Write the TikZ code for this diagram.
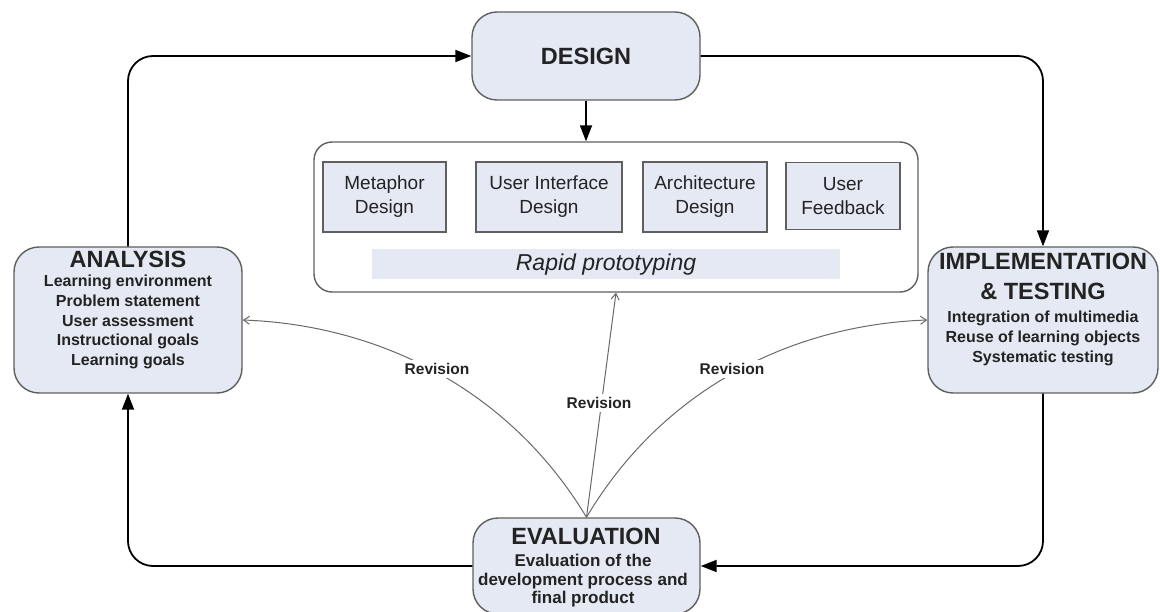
\documentclass[tikz,border=0pt]{standalone}
\usepackage{xcolor}
\usepackage{fontspec}
\setmainfont{Liberation Sans}
\usetikzlibrary{arrows.meta}
\definecolor{phasefill}{RGB}{228,233,244}
\definecolor{phaseline}{RGB}{95,95,95}
\definecolor{phasetext}{RGB}{35,35,35}
\definecolor{revline}{RGB}{105,105,105}

\begin{document}
\begin{tikzpicture}[x=1pt, y=-1pt,
  phase/.style={draw=phaseline, fill=phasefill, line width=1.4pt, rounded corners=25pt},
  subbox/.style={draw=phaseline, fill=phasefill, line width=1.1pt, align=center, text=phasetext,
    font=\fontsize{19}{24}\selectfont},
  title/.style={align=center, text=phasetext, font=\fontsize{23.5}{30}\selectfont\bfseries},
  items/.style={align=center, text=phasetext, font=\fontsize{16}{19.8}\selectfont\bfseries},
  flow/.style={line width=1.8pt, rounded corners=25pt, -{Triangle[length=16pt,width=12pt]}},
  revision/.style={draw=revline, line width=1pt, -{Straight Barb[length=6pt,width=8pt]}},
  revlabel/.style={fill=white, inner sep=3pt, text=phasetext, font=\fontsize{15.5}{18}\selectfont\bfseries}]
\useasboundingbox (0,0) rectangle (1160,612);

% phases
\node[phase, minimum width=228pt, minimum height=88pt] (design) at (586,56) {};
\node[title] (designtitle) at (586,56) {DESIGN};

\node[phase, minimum width=228pt, minimum height=146pt] (analysis) at (128,320) {};
\node[title] (analysistitle) at (128,259) {ANALYSIS};
\node[items] (analysisitems) at (128,322) {Learning environment\\Problem statement\\User assessment\\Instructional goals\\Learning goals};

\node[phase, minimum width=230pt, minimum height=146pt] (impl) at (1043,320) {};
\node[title] (impltitle) at (1043,276.5) {IMPLEMENTATION\\\& TESTING};
\node[items, font=\fontsize{16}{20}\selectfont\bfseries] (implitems) at (1043,338) {Integration of multimedia\\Reuse of learning objects\\Systematic testing};

\node[phase, minimum width=227pt, minimum height=96pt] (eval) at (586.5,566) {};
\node[title] (evaltitle) at (586,536) {EVALUATION};
\node[items, font=\fontsize{17}{18.5}\selectfont\bfseries] (evalitems) at (583,581) {Evaluation of the\\development process and\\final product};

% rapid prototyping
\node[draw=phaseline, fill=white, line width=1.4pt, rounded corners=18pt,
  minimum width=604pt, minimum height=150pt] (proto) at (616,217) {};
\node[subbox, minimum width=123pt, minimum height=70pt] (metaphor) at (384.5,197) {Metaphor\\Design};
\node[subbox, minimum width=146pt, minimum height=70pt] (ui) at (549,197) {User Interface\\Design};
\node[subbox, minimum width=124pt, minimum height=70pt] (arch) at (705,197) {Architecture\\Design};
\node[subbox, minimum width=114pt, minimum height=67pt] (feedback) at (843,196) {User\\Feedback};
\node[fill=phasefill, minimum width=468pt, minimum height=30pt, text=phasetext,
  font=\fontsize{23}{26}\selectfont\itshape] (rapid) at (606,264.5) {Rapid prototyping};

% main cycle
\draw[flow] (analysis.north) |- (design.west);
\draw[flow] (design.east) -| (impl.north);
\draw[flow, rounded corners=0pt] (design.south) -- (design.south |- proto.north);
\draw[flow] (impl.south) |- (eval.east);
\draw[flow] (eval.west) -| (analysis.south);

% revisions
\draw[revision] (eval.north) .. controls (510,390) and (380,325) .. (analysis.east);
\draw[revision] (eval.north) -- (proto.south);
\draw[revision] (eval.north) .. controls (662,390) and (790,325) .. (impl.west);
\node[revlabel] (rev1) at (437,369) {Revision};
\node[revlabel] (rev2) at (599,403) {Revision};
\node[revlabel] (rev3) at (732,369) {Revision};
\end{tikzpicture}
\end{document}
